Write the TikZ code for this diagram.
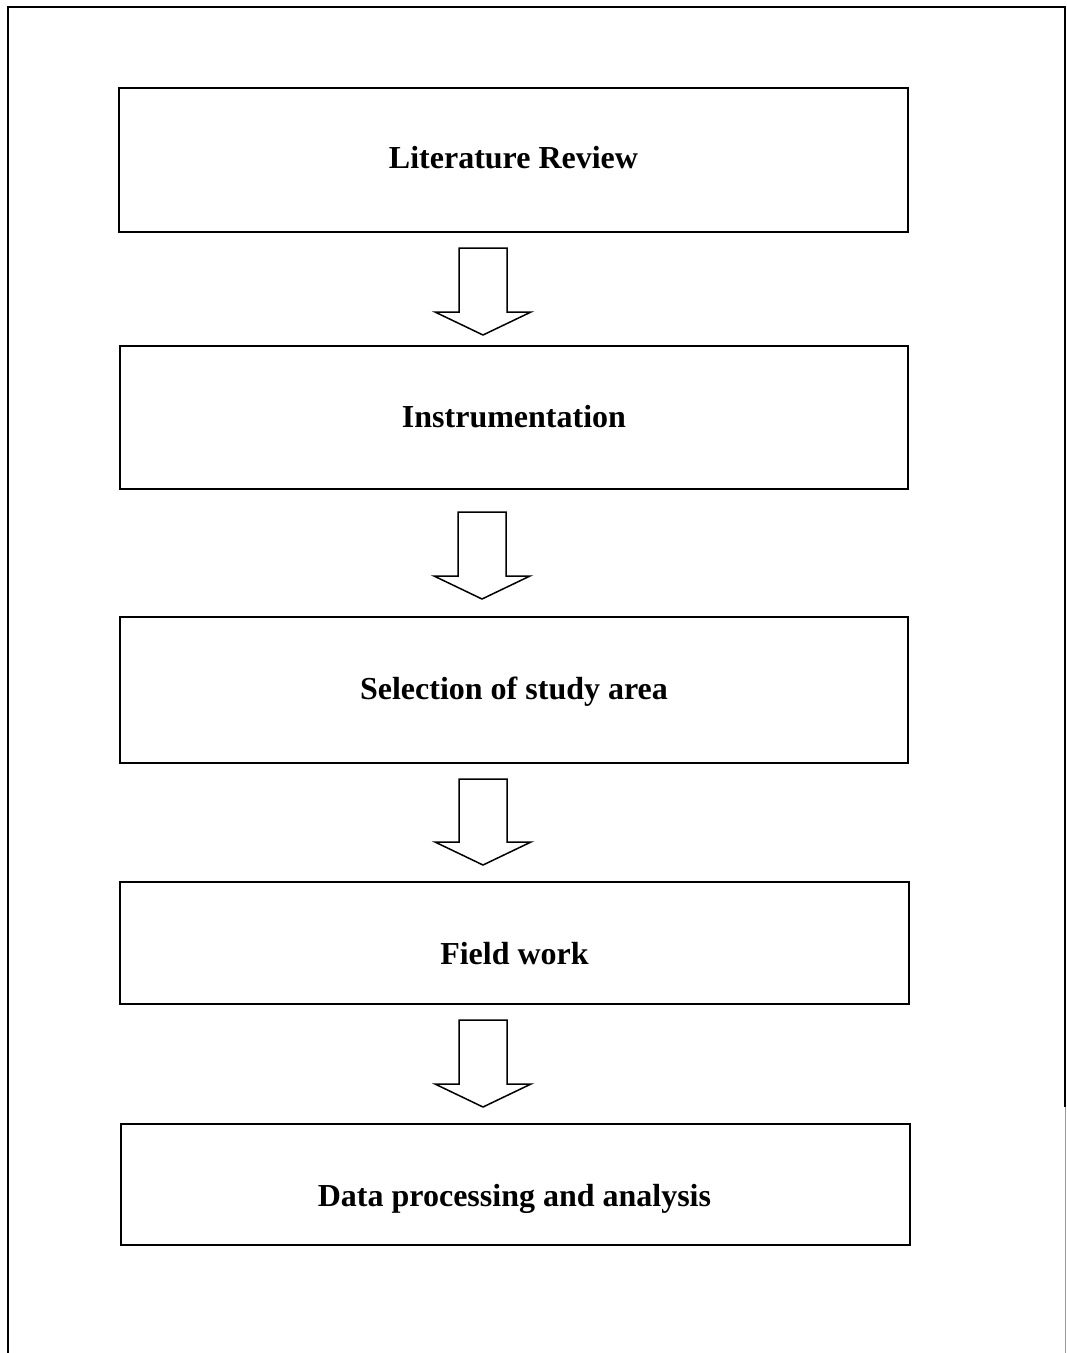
\documentclass[tikz,border=0pt]{standalone}
\usepackage{fontspec}
\setmainfont{Liberation Serif}
\begin{document}
\begin{tikzpicture}[x=1pt,y=-1pt,
  stepbox/.style={draw,line width=2pt,inner sep=0pt},
  steptext/.style={inner sep=0pt,font=\fontsize{32}{38}\selectfont\bfseries},
  frameline/.style={line width=2.2pt},
  blockarrow/.style={draw,line width=1.5pt,line join=miter}]
\useasboundingbox (0,0) rectangle (1067,1353);
% outer frame
\draw[frameline] (8,1353) -- (8,7) -- (1065,7) -- (1065,1107);
\draw[line width=0.6pt,black!40] (1065,1107) -- (1065,1353);
% boxes
\node[stepbox,minimum width=789pt,minimum height=144pt] (b1) at (513.5,160) {};
\node[stepbox,minimum width=788pt,minimum height=143pt] (b2) at (514,417.5) {};
\node[stepbox,minimum width=788pt,minimum height=146pt] (b3) at (514,690) {};
\node[stepbox,minimum width=789pt,minimum height=122pt] (b4) at (514.5,943) {};
\node[stepbox,minimum width=789pt,minimum height=121pt] (b5) at (515.5,1184.5) {};
% texts
\node[steptext] (t1) at ([yshift=2pt]b1.center) {Literature Review};
\node[steptext] (t2) at ([yshift=1pt]b2.center) {Instrumentation};
\node[steptext] (t3) at ([yshift=-2pt]b3.center) {Selection of study area};
\node[steptext] (t4) at ([yshift=-11pt]b4.center) {Field work};
\node[steptext] (t5) at ([xshift=-1pt,yshift=-14pt]b5.center) {Data processing and analysis};
% block arrows
\newcommand\myblockarrow[3]{%
  \draw[blockarrow] (#1-24,#2) -- (#1+24,#2) -- (#1+24,#3-23) -- (#1+48,#3-23)
    -- (#1,#3) -- (#1-48,#3-23) -- (#1-24,#3-23) -- cycle;}
\myblockarrow{483}{248}{335}
\myblockarrow{482}{512}{599}
\myblockarrow{483}{779}{865}
\myblockarrow{483}{1020}{1107}
\end{tikzpicture}
\end{document}
